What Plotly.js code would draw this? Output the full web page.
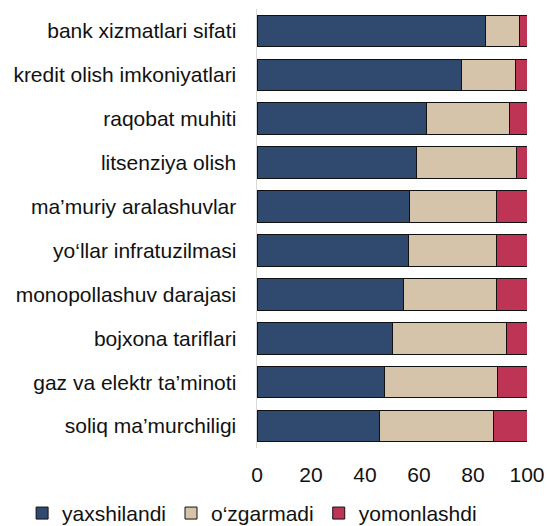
<!DOCTYPE html>
<html>
<head>
<meta charset="utf-8">
<script src="https://cdn.plot.ly/plotly-3.0.1.min.js"></script>
<style>html,body{margin:0;padding:0;background:#fff;}#chart{width:549px;height:526px;}</style>
</head>
<body>
<div id="chart"></div>
<script>
var categories = [
  "bank xizmatlari sifati",
  "kredit olish imkoniyatlari",
  "raqobat muhiti",
  "litsenziya olish",
  "ma\u2019muriy aralashuvlar",
  "yo\u2018llar infratuzilmasi",
  "monopollashuv darajasi",
  "bojxona tariflari",
  "gaz va elektr ta\u2019minoti",
  "soliq ma\u2019murchiligi"
];
var seriesNames = ["yaxshilandi", "o\u2018zgarmadi", "yomonlashdi"];
var improved  = [84.7, 75.8, 62.6, 59.1, 56.4, 56.0, 54.3, 50.0, 47.3, 45.2];
var unchanged = [12.7, 19.8, 30.8, 36.9, 32.2, 32.7, 34.4, 42.4, 41.8, 42.4];
var worsened  = [2.6, 4.4, 6.6, 4.0, 11.4, 11.3, 11.3, 7.6, 10.9, 12.4];
var xTicks = [0, 20, 40, 60, 80, 100];

var colors = ["#2F4A6E", "#D5C4A9", "#BE3455"];
var vals = [improved, unchanged, worsened];
var traces = vals.map(function(v, i){
  return {
    type: "bar", orientation: "h",
    x: v, y: categories, name: seriesNames[i],
    marker: {color: colors[i], line: {color: "#111111", width: 1}},
    hoverinfo: "x+name"
  };
});

var layout = {
  width: 549, height: 526,
  barmode: "stack",
  bargap: 0.28,
  margin: {l: 257, r: 21.5, t: 8.7, b: 77.5, autoexpand: false},
  paper_bgcolor: "#ffffff", plot_bgcolor: "#ffffff",
  font: {family: "Liberation Sans, Arial, sans-serif", size: 21, color: "#111111"},
  xaxis: {
    range: [0, 100], tickvals: xTicks, ticktext: xTicks.map(String),
    showgrid: false, zeroline: false, showline: false, ticks: "",
    tickfont: {size: 21}, ticklabelstandoff: 12, fixedrange: true
  },
  yaxis: {
    autorange: "reversed", showgrid: false, zeroline: false,
    showline: true, linecolor: "#d9d9d9", linewidth: 1.5, ticks: "",
    ticklabelstandoff: 15, tickfont: {size: 21}, fixedrange: true
  },
  showlegend: true,
  legend: {
    orientation: "h", x: -0.87, xref: "paper", xanchor: "left",
    y: -0.149, yref: "paper", yanchor: "middle",
    font: {size: 21}, itemwidth: 30, traceorder: "normal"
  }
};
Plotly.newPlot("chart", traces, layout, {staticPlot: true});
</script>
</body>
</html>
